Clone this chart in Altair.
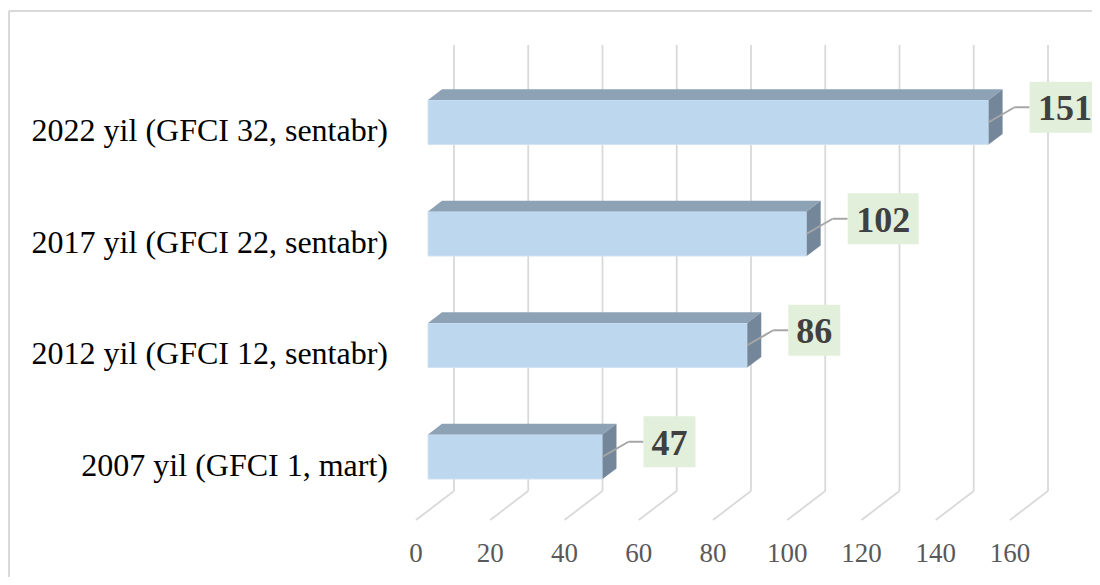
import altair as alt
import pandas as pd

# ---------------- data ----------------
categories = [
    "2007 yil (GFCI 1, mart)",
    "2012 yil (GFCI 12, sentabr)",
    "2017 yil (GFCI 22, sentabr)",
    "2022 yil (GFCI 32, sentabr)",
]
values = [47, 86, 102, 151]
ticks = [0, 20, 40, 60, 80, 100, 120, 140, 160]

# ---------------- geometry / style ----------------
W, H = 1084, 569
X_DOMAIN = [0, 160]
X_RANGE = [446, 1040]          # back-wall pixel positions
Y_DOMAIN = [0, len(categories)]
Y_RANGE = [483, 37]
PXX = (X_RANGE[1] - X_RANGE[0]) / (X_DOMAIN[1] - X_DOMAIN[0])
PXY = (Y_RANGE[0] - Y_RANGE[1]) / (Y_DOMAIN[1] - Y_DOMAIN[0])
DEPTH_X, DEPTH_Y = -38, 29      # pixel shift from back wall to front edge
Z_FRONT, Z_BACK = 0.684, 0.316
BAR_LO, BAR_HI = 0.285, 0.685

FONT = "Liberation Serif"
GRID = "#D9D9D9"
FRONT = "#BDD7EE"
TOP = "#8EA2B6"
SIDE = "#74879A"


def proj(v, yrow, z):
    return v + DEPTH_X * z / PXX, yrow - DEPTH_Y * z / PXY


def ux(p):
    return p / PXX


def uy(p):
    return p / PXY


xs = alt.Scale(domain=X_DOMAIN, range=X_RANGE, nice=False, zero=False)
ys = alt.Scale(domain=Y_DOMAIN, range=Y_RANGE, nice=False, zero=False)

# gridlines: back wall verticals + floor diagonals
grid_rows = []
for t in ticks:
    grid_rows.append(dict(x=t, y=0, x2=t, y2=Y_DOMAIN[1]))
    fx, fy = proj(t, 0, 1)
    grid_rows.append(dict(x=t, y=0, x2=fx, y2=fy))
grid_df = pd.DataFrame(grid_rows)

front_rows, top_rows, side_rows = [], [], []
lead_rows, box_rows, cat_rows = [], [], []
for i, (c, v) in enumerate(zip(categories, values)):
    lo, hi = i + BAR_LO, i + BAR_HI
    x0f, ylof = proj(0, lo, Z_FRONT)
    xvf, yhif = proj(v, hi, Z_FRONT)
    front_rows.append(dict(cat=c, x=x0f, x2=xvf, y=ylof, y2=yhif))
    for z in (Z_FRONT, Z_BACK):
        a, yy = proj(0, hi, z)
        b, _ = proj(v, hi, z)
        top_rows.append(dict(cat=c, y=yy, x=a, x2=b))
        sx, sl = proj(v, lo, z)
        _, sh = proj(v, hi, z)
        side_rows.append(dict(cat=c, x=sx, y=sl, y2=sh))
    # label box and leader
    yc = (ylof + yhif) / 2
    yb = yc + uy(15)
    txt = str(v)
    bw = 19 * len(txt) + 14
    xl = xvf + ux(41)
    xk = xvf + ux(26)
    lead_rows.append(dict(x=xvf, y=yc, x2=xk, y2=yb))
    lead_rows.append(dict(x=xk, y=yb, x2=xl, y2=yb))
    box_rows.append(dict(label=txt, x=xl, x2=xl + ux(bw), y=yb - uy(25.5),
                         y2=yb + uy(25.5), xc=xl + ux(bw / 2), yc=yb))
    cat_rows.append(dict(cat=c, x=proj(0, 0, 1)[0] - ux(28), y=yc))

front_df = pd.DataFrame(front_rows)
top_df = pd.DataFrame(top_rows)
side_df = pd.DataFrame(side_rows)
lead_df = pd.DataFrame(lead_rows)
box_df = pd.DataFrame(box_rows)
cat_df = pd.DataFrame(cat_rows)
tick_df = pd.DataFrame([dict(label=str(t), x=proj(t, 0, 1)[0], y=proj(t, 0, 1)[1]) for t in ticks])

X = lambda f: alt.X(f, type="quantitative", scale=xs, axis=None)
Y = lambda f: alt.Y(f, type="quantitative", scale=ys, axis=None)

grid = alt.Chart(grid_df).mark_rule(color=GRID, strokeWidth=1.8).encode(
    x=X("x"), y=Y("y"), x2="x2", y2="y2")

front = alt.Chart(front_df).mark_rect(color=FRONT, stroke="#D3E3F3", strokeWidth=1).encode(
    x=X("x"), x2="x2", y=Y("y"), y2="y2")

top = alt.Chart(top_df).mark_area(orient="horizontal", color=TOP).encode(
    y=Y("y"), x=X("x"), x2="x2", detail="cat:N")

side = alt.Chart(side_df).mark_area(orient="vertical", color=SIDE).encode(
    x=X("x"), y=Y("y"), y2="y2", detail="cat:N")

leaders = alt.Chart(lead_df).mark_rule(color="#A6A6A6", strokeWidth=2).encode(
    x=X("x"), y=Y("y"), x2="x2", y2="y2")

boxes = alt.Chart(box_df).mark_rect(color="#E2EFDA").encode(
    x=X("x"), x2="x2", y=Y("y"), y2="y2")

box_text = alt.Chart(box_df).mark_text(
    font=FONT, fontSize=36, fontWeight="bold", color="#404040",
    align="center", baseline="alphabetic", dy=13).encode(
    x=X("xc"), y=Y("yc"), text="label:N")

cat_text = alt.Chart(cat_df).mark_text(
    font=FONT, fontSize=32, color="#000000", align="right",
    baseline="alphabetic", dy=19).encode(
    x=X("x"), y=Y("y"), text="cat:N")

tick_text = alt.Chart(tick_df).mark_text(
    font=FONT, fontSize=27, color="#595959", align="center",
    baseline="alphabetic", dy=42).encode(
    x=X("x"), y=Y("y"), text="label:N")

border_left = alt.Chart(pd.DataFrame({"a": [0]})).mark_rule(color=GRID, strokeWidth=2).encode(
    x=alt.value(1), y=alt.value(3), y2=alt.value(H + 10))
border_top = alt.Chart(pd.DataFrame({"a": [0]})).mark_rule(color=GRID, strokeWidth=2).encode(
    x=alt.value(1), x2=alt.value(W + 10), y=alt.value(3))

chart = alt.layer(
    grid, front, top, side, leaders, boxes, box_text, cat_text, tick_text,
    border_left, border_top,
).properties(
    width=W, height=H, autosize=alt.AutoSizeParams(type="none"), padding=0,
    background="white",
).configure_view(stroke=None)

chart.save("out.html", embed_options={"renderer": "svg", "actions": False})
